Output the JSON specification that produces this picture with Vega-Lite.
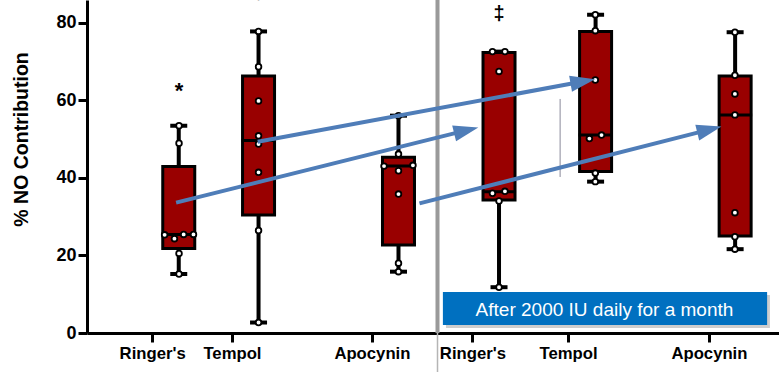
{
  "$schema": "https://vega.github.io/schema/vega-lite/v6.json",
  "width": 692,
  "height": 333,
  "autosize": {"type": "none"},
  "padding": {"left": 87, "top": 0, "right": 0, "bottom": 39},
  "background": "white",
  "config": {
    "view": {"stroke": null},
    "font": "Liberation Sans",
    "axis": {"grid": false, "domainColor": "black", "domainWidth": 3, "tickColor": "black", "tickWidth": 3, "tickSize": 9,
      "labelFont": "Liberation Sans", "labelFontWeight": "bold", "labelColor": "black", "labelFlush": false, "labelOverlap": false,
      "titleFont": "Liberation Sans", "titleFontWeight": "bold", "titleColor": "black"},
    "axisX": {"labelFontSize": 16.7, "labelPadding": 3},
    "axisY": {"labelFontSize": 18, "labelPadding": 2, "tickSize": 9, "titleFontSize": 19.5, "titleX": -66, "titleY": 139,
      "titleAngle": -90, "titleAlign": "center", "titleBaseline": "middle"}
  },
  "datasets": {
    "boxes": [
      {"group": "Ringer's", "pos": 1.272, "q1": 21.8, "q3": 42.9, "median": 25.4, "lo": 15.2, "hi": 53.4},
      {"group": "Tempol", "pos": 2.442, "q1": 30.4, "q3": 66.2, "median": 49.6, "lo": 2.7, "hi": 77.7},
      {"group": "Apocynin", "pos": 4.494, "q1": 22.7, "q3": 45.3, "median": 43.0, "lo": 15.8, "hi": 56.0},
      {"group": "Ringer's after", "pos": 5.968, "q1": 34.3, "q3": 72.3, "median": 36.4, "lo": 11.8, "hi": 72.5},
      {"group": "Tempol after", "pos": 7.384, "q1": 41.6, "q3": 77.7, "median": 51.0, "lo": 39.0, "hi": 82.0},
      {"group": "Apocynin after", "pos": 9.43, "q1": 25.0, "q3": 66.2, "median": 56.2, "lo": 21.6, "hi": 77.5}
    ],
    "points": [
      {"pos": 1.065, "val": 25.3}, {"pos": 1.209, "val": 24.3}, {"pos": 1.344, "val": 25.4}, {"pos": 1.488, "val": 25.4},
      {"pos": 1.276, "val": 20.5}, {"pos": 1.276, "val": 48.9}, {"pos": 1.276, "val": 53.4}, {"pos": 1.276, "val": 15.2},
      {"pos": 2.442, "val": 77.7}, {"pos": 2.442, "val": 68.6}, {"pos": 2.442, "val": 59.8}, {"pos": 2.442, "val": 50.8},
      {"pos": 2.442, "val": 48.7}, {"pos": 2.442, "val": 41.4}, {"pos": 2.442, "val": 26.4}, {"pos": 2.442, "val": 2.7},
      {"pos": 4.494, "val": 56.0}, {"pos": 4.494, "val": 46.1}, {"pos": 4.282, "val": 43.0}, {"pos": 4.494, "val": 41.8},
      {"pos": 4.706, "val": 43.2}, {"pos": 4.494, "val": 35.8}, {"pos": 4.494, "val": 18.0}, {"pos": 4.494, "val": 15.8},
      {"pos": 5.872, "val": 72.5}, {"pos": 6.055, "val": 72.5}, {"pos": 5.968, "val": 67.4}, {"pos": 5.872, "val": 36.0},
      {"pos": 6.055, "val": 36.5}, {"pos": 5.968, "val": 34.0}, {"pos": 5.968, "val": 11.8},
      {"pos": 7.38, "val": 82.0}, {"pos": 7.38, "val": 77.9}, {"pos": 7.38, "val": 65.2}, {"pos": 7.293, "val": 50.1},
      {"pos": 7.471, "val": 51.0}, {"pos": 7.38, "val": 41.2}, {"pos": 7.38, "val": 39.0},
      {"pos": 9.427, "val": 77.5}, {"pos": 9.427, "val": 66.4}, {"pos": 9.427, "val": 61.6}, {"pos": 9.427, "val": 56.2},
      {"pos": 9.427, "val": 31.0}, {"pos": 9.427, "val": 24.8}, {"pos": 9.427, "val": 21.6}
    ],
    "arrows": [
      {"arrow": 1, "ord": 0, "pos": 2.43, "val": 49.3}, {"arrow": 1, "ord": 1, "pos": 7.197, "val": 64.8},
      {"arrow": 2, "ord": 0, "pos": 1.233, "val": 33.6}, {"arrow": 2, "ord": 1, "pos": 5.487, "val": 52.2},
      {"arrow": 3, "ord": 0, "pos": 4.802, "val": 33.4}, {"arrow": 3, "ord": 1, "pos": 9.052, "val": 52.4}
    ],
    "heads": [
      {"pos": 7.197, "val": 64.8, "angle": -10},
      {"pos": 5.487, "val": 52.2, "angle": -14},
      {"pos": 9.052, "val": 52.4, "angle": -14}
    ],
    "marks": [
      {"pos": 1.276, "val": 60.6, "label": "*", "fs": 22},
      {"pos": 5.968, "val": 80.7, "label": "‡", "fs": 20},
      {"pos": 2.442, "val": 86.1, "label": "†", "fs": 20}
    ]
  },
  "encoding": {
    "x": {"field": "pos", "type": "quantitative", "title": null,
      "scale": {"domain": [0, 10], "nice": false, "zero": false},
      "axis": {"values": [0.882, 2.052, 4.104, 5.578, 6.98, 9.046],
        "labelExpr": "datum.value < 1.5 ? \"Ringer's\" : datum.value < 3 ? 'Tempol' : datum.value < 5 ? 'Apocynin' : datum.value < 6 ? \"Ringer's\" : datum.value < 8 ? 'Tempol' : 'Apocynin'"}}
  },
  "layer": [
    {
      "data": {"values": [{"pos": 5.066, "val": 0, "val2": 85.8}]},
      "mark": {"type": "rule", "color": "#9a9a9a", "strokeWidth": 4},
      "encoding": {
        "y": {"field": "val", "type": "quantitative", "title": "% NO Contribution",
          "scale": {"domain": [0, 85.8], "nice": false},
          "axis": {"values": [0, 20, 40, 60, 80]}},
        "y2": {"field": "val2"}
      }
    },
    {
      "data": {"values": [{"pos": 5.066, "val": -10.2, "val2": 0}]},
      "mark": {"type": "rule", "color": "#b5b5b5", "strokeWidth": 1.5},
      "encoding": {
        "y": {"field": "val", "type": "quantitative", "title": "% NO Contribution"},
        "y2": {"field": "val2"}
      }
    },
    {
      "data": {"values": [{"pos": 6.864, "val": 40.2, "val2": 60.3}]},
      "mark": {"type": "rule", "color": "#8a8a9a", "strokeWidth": 1},
      "encoding": {
        "y": {"field": "val", "type": "quantitative", "title": "% NO Contribution"},
        "y2": {"field": "val2"}
      }
    },
    {
      "data": {"name": "boxes"},
      "mark": {"type": "rule", "color": "black", "strokeWidth": 4},
      "encoding": {
        "y": {"field": "lo", "type": "quantitative", "title": "% NO Contribution"},
        "y2": {"field": "hi"}
      }
    },
    {
      "data": {"name": "boxes"},
      "mark": {"type": "tick", "orient": "horizontal", "color": "black", "size": 17, "thickness": 4, "opacity": 1},
      "encoding": {
        "y": {"field": "lo", "type": "quantitative", "title": "% NO Contribution"}
      }
    },
    {
      "data": {"name": "boxes"},
      "mark": {"type": "tick", "orient": "horizontal", "color": "black", "size": 17, "thickness": 4, "opacity": 1},
      "encoding": {
        "y": {"field": "hi", "type": "quantitative", "title": "% NO Contribution"}
      }
    },
    {
      "data": {"name": "boxes"},
      "mark": {"type": "bar", "size": 32, "fill": "#990000", "stroke": "black", "strokeWidth": 3, "orient": "vertical"},
      "encoding": {
        "y": {"field": "q1", "type": "quantitative", "title": "% NO Contribution"},
        "y2": {"field": "q3"}
      }
    },
    {
      "data": {"name": "boxes"},
      "mark": {"type": "tick", "orient": "horizontal", "color": "black", "size": 34, "thickness": 3, "opacity": 1},
      "encoding": {
        "y": {"field": "median", "type": "quantitative", "title": "% NO Contribution"}
      }
    },
    {
      "data": {"name": "points"},
      "mark": {"type": "point", "shape": "circle", "filled": true, "fill": "white", "stroke": "black", "strokeWidth": 1.8, "size": 32, "opacity": 1},
      "encoding": {
        "y": {"field": "val", "type": "quantitative", "title": "% NO Contribution"}
      }
    },
    {
      "data": {"name": "arrows"},
      "mark": {"type": "line", "color": "#4f7db8", "strokeWidth": 4, "strokeCap": "butt"},
      "encoding": {
        "y": {"field": "val", "type": "quantitative", "title": "% NO Contribution"},
        "detail": {"field": "arrow", "type": "nominal"},
        "order": {"field": "ord", "type": "quantitative"}
      }
    },
    {
      "data": {"name": "heads"},
      "mark": {"type": "point", "shape": "M-1,-0.65L1,0L-1,0.65Z", "filled": true, "color": "#4f7db8", "size": 620, "opacity": 1},
      "encoding": {
        "y": {"field": "val", "type": "quantitative", "title": "% NO Contribution"},
        "angle": {"field": "angle", "type": "quantitative", "scale": null}
      }
    },
    {
      "data": {"values": [{"pos": 5.19, "val": 9.8, "pos2": 9.94, "val2": 1.3}]},
      "mark": {"type": "rect", "color": "#b8b8b8", "opacity": 0.7},
      "encoding": {
        "x2": {"field": "pos2"},
        "y": {"field": "val", "type": "quantitative", "title": "% NO Contribution"},
        "y2": {"field": "val2"}
      }
    },
    {
      "data": {"values": [{"pos": 5.145, "val": 10.57, "pos2": 9.899, "val2": 2.06}]},
      "mark": {"type": "rect", "color": "#0070c0", "opacity": 1},
      "encoding": {
        "x2": {"field": "pos2"},
        "y": {"field": "val", "type": "quantitative", "title": "% NO Contribution"},
        "y2": {"field": "val2"}
      }
    },
    {
      "data": {"values": [{"pos": 7.514, "val": 4.38, "label": "After 2000 IU daily for a month"}]},
      "mark": {"type": "text", "color": "white", "font": "Liberation Sans", "fontSize": 19, "align": "center", "baseline": "alphabetic"},
      "encoding": {
        "y": {"field": "val", "type": "quantitative", "title": "% NO Contribution"},
        "text": {"field": "label"}
      }
    },
    {
      "data": {"name": "marks"},
      "mark": {"type": "text", "color": "black", "fill": "black", "font": "Liberation Sans", "fontWeight": "bold", "align": "center", "baseline": "alphabetic"},
      "encoding": {
        "y": {"field": "val", "type": "quantitative", "title": "% NO Contribution"},
        "text": {"field": "label"},
        "size": {"field": "fs", "type": "quantitative", "scale": null}
      }
    }
  ]
}
